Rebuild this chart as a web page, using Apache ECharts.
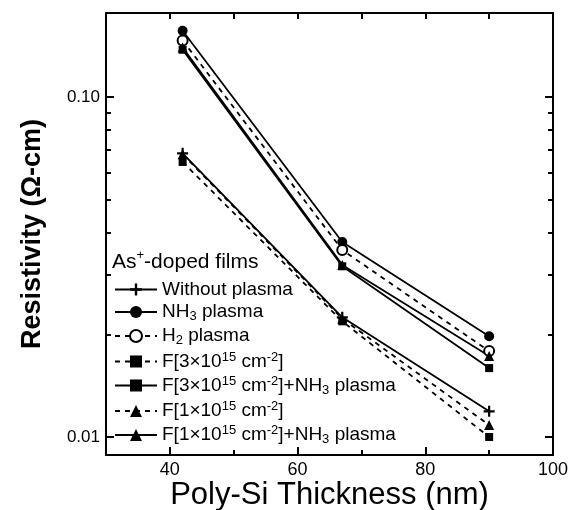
<!DOCTYPE html>
<html>
<head>
<meta charset="utf-8">
<script src="https://cdn.jsdelivr.net/npm/echarts@6/dist/echarts.min.js"></script>
<style>
  html, body { margin: 0; padding: 0; background: #fff; }
  #resChart { width: 575px; height: 510px; }
</style>
</head>
<body>
<div id="resChart"></div>
<script>
// poly-Si thickness (nm)
var thickness = [42, 67, 90];
// resistivity (ohm-cm) for each sample
var withoutPlasma = [0.0684, 0.0225, 0.0119];
var nh3Plasma = [0.157, 0.0375, 0.0198];
var h2Plasma = [0.147, 0.0355, 0.0179];
var f3 = [0.0645, 0.0219, 0.0100];
var f3Nh3 = [0.138, 0.0318, 0.01595];
var f1 = [0.0680, 0.0223, 0.01084];
var f1Nh3 = [0.140, 0.0321, 0.0173];

var xTicksMajor = [40, 60, 80, 100];
var xTicksMinor = [50, 70, 90];
var yTicksMajor = [0.01, 0.1];
var yTicksMinor = [0.02, 0.03, 0.04, 0.05, 0.06, 0.07, 0.08, 0.09];

var legendRich = {
  'Without plasma': '{t|Without plasma}',
  'NH3 plasma': '{t|NH}{sub|3}{t| plasma}',
  'H2 plasma': '{t|H}{sub|2}{t| plasma}',
  'F3': '{t|F[3×10}{sup|15}{t| cm}{sup|-2}{t|]}',
  'F3+NH3': '{t|F[3×10}{sup|15}{t| cm}{sup|-2}{t|]+NH}{sub|3}{t| plasma}',
  'F1': '{t|F[1×10}{sup|15}{t| cm}{sup|-2}{t|]}',
  'F1+NH3': '{t|F[1×10}{sup|15}{t| cm}{sup|-2}{t|]+NH}{sub|3}{t| plasma}'
};

var plusPath = 'path://M4,0 h2 v4 h4 v2 h-4 v4 h-2 v-4 h-4 v-2 h4 z';

function pts(arr) {
  return thickness.map(function (x, i) { return [x, arr[i]]; });
}

function mkSeries(name, arr, symbol, size, dashed) {
  return {
    name: name,
    type: 'line',
    data: pts(arr),
    symbol: symbol,
    symbolSize: size,
    showAllSymbol: true,
    lineStyle: { color: '#000', width: 1.8, type: dashed ? [5, 5] : 'solid' },
    itemStyle: { color: '#000', borderWidth: symbol === 'emptyCircle' ? 1.2 : 0 },
    emphasis: { disabled: true },
    z: 3
  };
}

var fontFam = 'Liberation Sans, Arial, sans-serif';
var myChart = echarts.init(document.getElementById('resChart'), null, { renderer: 'canvas' });

var yMin = 0.00885, yMax = 0.177;

function yAx(pos, ticks, len, showLine, showLabel) {
  return {
    type: 'log',
    logBase: 10,
    position: pos,
    min: yMin,
    max: yMax,
    axisLine: { show: showLine, lineStyle: { color: '#000', width: 2 } },
    axisTick: { show: true, inside: true, length: len, customValues: ticks, lineStyle: { color: '#000', width: 2 } },
    axisLabel: {
      show: showLabel,
      customValues: showLabel ? yTicksMajor : undefined,
      color: '#000', fontSize: 17, fontFamily: fontFam, margin: 6,
      formatter: function (v) {
        if (Math.abs(v - 0.1) < 1e-9) return '0.10';
        if (Math.abs(v - 0.01) < 1e-9) return '0.01';
        return '';
      }
    },
    splitLine: { show: false }
  };
}

function xAx(pos, ticks, len, showLine, showLabel) {
  return {
    type: 'value',
    position: pos,
    min: 30,
    max: 100,
    interval: 10,
    axisLine: { show: showLine, onZero: false, lineStyle: { color: '#000', width: 2 } },
    axisTick: { show: true, inside: true, length: len, customValues: ticks, lineStyle: { color: '#000', width: 2 } },
    axisLabel: {
      show: showLabel,
      color: '#000', fontSize: 18, fontFamily: fontFam, margin: 6,
      formatter: function (v) { return v % 20 === 0 && v > 30 ? String(v) : ''; }
    },
    splitLine: { show: false }
  };
}

var xMain = xAx('bottom', xTicksMajor, 8, true, true);
xMain.name = 'Poly-Si Thickness (nm)';
xMain.nameLocation = 'middle';
xMain.nameGap = 25;
xMain.nameMoveOverlap = false;
xMain.nameTextStyle = { color: '#000', fontSize: 31, fontFamily: fontFam };

var yMain = yAx('left', yTicksMajor, 8, true, true);
yMain.name = 'Resistivity (Ω-cm)';
yMain.nameLocation = 'middle';
yMain.nameGap = 60;
yMain.nameMoveOverlap = false;
yMain.nameTextStyle = { color: '#000', fontSize: 27, fontWeight: 'bold', fontFamily: fontFam };

var option = {
  backgroundColor: '#fff',
  animation: false,
  grid: { left: 106, right: 22, top: 13, bottom: 55, containLabel: false, outerBoundsMode: 'none' },
  title: {
    text: '{t|As}{sup|+}{t|-doped films}',
    left: 112,
    top: 249,
    padding: 0,
    textStyle: {
      fontWeight: 'normal',
      rich: {
        t: { fontSize: 21, fontFamily: fontFam, fontWeight: 'normal', color: '#000', lineHeight: 26 },
        sup: { fontSize: 13, fontFamily: fontFam, fontWeight: 'normal', color: '#000', lineHeight: 26, verticalAlign: 'top' }
      }
    }
  },
  legend: {
    orient: 'vertical',
    left: 114,
    top: 280,
    itemWidth: 42,
    itemHeight: 15,
    itemGap: 3.5,
    padding: 0,
    selectedMode: false,
    data: ['Without plasma', 'NH3 plasma', 'H2 plasma', 'F3', 'F3+NH3', 'F1', 'F1+NH3'],
    formatter: function (name) { return legendRich[name]; },
    textStyle: {
      color: '#000',
      rich: {
        t: { fontSize: 19, fontFamily: fontFam, color: '#000', lineHeight: 22 },
        sub: { fontSize: 13, fontFamily: fontFam, color: '#000', lineHeight: 22, verticalAlign: 'bottom' },
        sup: { fontSize: 13, fontFamily: fontFam, color: '#000', lineHeight: 22, verticalAlign: 'top' }
      }
    }
  },
  xAxis: [
    xMain,
    xAx('bottom', xTicksMinor, 5, false, false),
    xAx('top', xTicksMajor.concat(xTicksMinor), 6, true, false)
  ],
  yAxis: [
    yMain,
    yAx('left', yTicksMinor, 5, false, false),
    yAx('right', yTicksMajor, 8, true, false),
    yAx('right', yTicksMinor, 5, false, false)
  ],
  series: [
    mkSeries('Without plasma', withoutPlasma, plusPath, 11, false),
    mkSeries('NH3 plasma', nh3Plasma, 'circle', 10, false),
    mkSeries('H2 plasma', h2Plasma, 'emptyCircle', 10, true),
    mkSeries('F3', f3, 'rect', 8, true),
    mkSeries('F3+NH3', f3Nh3, 'rect', 8, false),
    mkSeries('F1', f1, 'triangle', 10, true),
    mkSeries('F1+NH3', f1Nh3, 'triangle', 10, false)
  ]
};

myChart.setOption(option);
window.addEventListener('resize', function () {
  myChart.resize();
});
</script>
</body>
</html>
